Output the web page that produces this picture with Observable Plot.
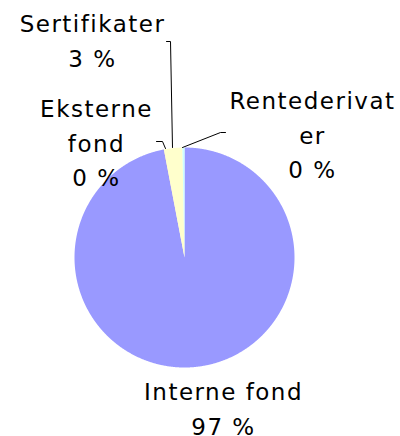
<!DOCTYPE html>
<html>
<head>
<meta charset="utf-8">
<script src="https://cdn.jsdelivr.net/npm/d3@7"></script>
<script src="https://cdn.jsdelivr.net/npm/@observablehq/plot@0.6"></script>
<style>
  html, body { margin: 0; padding: 0; background: #fff; }
  svg { display: block; }
  svg text { letter-spacing: 1.5px; }
</style>
</head>
<body>
<div id="chart"></div>
<script>
// ---- data ----
const categories = ["Interne fond", "Eksterne fond", "Sertifikater", "Rentederivater"];
const values = [96.9, 0.02, 2.7, 0.3];
const wrappedNames = ["Interne fond", "Eksterne\nfond", "Sertifikater", "Rentederivat\ner"];
const colors = ["#9999FF", "#993366", "#FFFFCC", "#CCFFFF"];

// ---- layout (pixel placement of the pie and labels) ----
const W = 400, H = 436;
const CX = 184, CY = 257, R = 110;
const labelPos = [ // [center x, first-line baseline y] in pixels
  [223, 400],
  [96, 117],
  [92, 32],
  [312, 109]
];
const leaders = [ // pixel polylines, one per category (null = none)
  null,
  [[156, 141], [162, 141], [165, 148]],
  [[166, 41], [170, 41], [172, 147]],
  [[225, 132], [220, 132], [182, 147]]
];
const FONT = 23, LH = 1.48;

const ux = px => (px - CX) / R;
const uy = py => (CY - py) / R;

const total = d3.sum(values);
const arcs = d3.pie().sort(null).value(d => d)(values);

const slicePts = [];
arcs.forEach((a, i) => {
  slicePts.push({cat: categories[i], x: 0, y: 0});
  const n = Math.max(2, Math.ceil((a.endAngle - a.startAngle) / 0.005));
  for (let k = 0; k <= n; k++) {
    const t = a.startAngle + (a.endAngle - a.startAngle) * k / n;
    slicePts.push({cat: categories[i], x: Math.sin(t), y: Math.cos(t)});
  }
  slicePts.push({cat: categories[i], x: 0, y: 0});
});

// Plot offsets the first line of a top-anchored block by 0.71 * lineHeight em
const firstOffset = 0.71 * LH * FONT;
const labels = categories.map((c, i) => ({
  cat: c,
  text: wrappedNames[i] + "\n" + Math.round(values[i] / total * 100) + " %",
  x: ux(labelPos[i][0]),
  y: uy(labelPos[i][1] - firstOffset)
}));

const leaderPts = [];
leaders.forEach((l, i) => {
  if (!l) return;
  l.forEach(p => leaderPts.push({cat: categories[i], x: ux(p[0]), y: uy(p[1])}));
});

const chart = Plot.plot({
  width: W,
  height: H,
  margin: 0,
  x: {domain: [ux(0), ux(W)], range: [0, W], axis: null},
  y: {domain: [uy(H), uy(0)], range: [H, 0], axis: null},
  color: {domain: categories, range: colors},
  style: {fontFamily: "DejaVu Sans, Verdana, sans-serif", background: "#fff"},
  marks: [
    Plot.line(slicePts, {x: "x", y: "y", z: "cat", fill: "cat", stroke: "none", curve: "linear"}),
    Plot.line(leaderPts, {x: "x", y: "y", z: "cat", stroke: "#000", strokeWidth: 1}),
    Plot.text(labels, {
      x: "x", y: "y", text: "text",
      textAnchor: "middle", lineAnchor: "top", lineHeight: LH,
      fontSize: FONT, fill: "#000"
    })
  ]
});

document.getElementById("chart").appendChild(chart);
</script>
</body>
</html>
